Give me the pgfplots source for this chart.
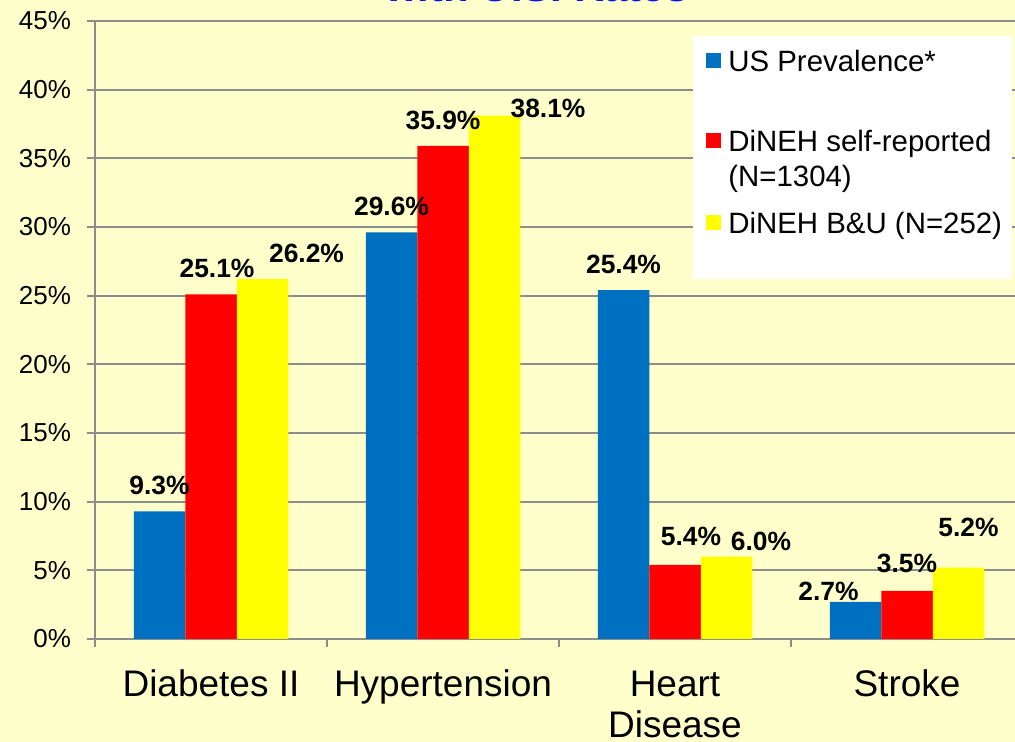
\documentclass[border=0pt]{standalone}
\usepackage{pgfplots}
\pgfplotsset{compat=1.18}
\usepackage{pgfplotstable}
\usepackage{fontspec}
\setmainfont{Liberation Sans}

\definecolor{bgyellow}{RGB}{255,255,204}
\definecolor{usblue}{RGB}{0,112,192}
\definecolor{dred}{RGB}{255,0,0}
\definecolor{dyellow}{RGB}{255,255,0}
\definecolor{gridgray}{RGB}{140,140,140}
\definecolor{titleblue}{RGB}{16,16,240}

% x = category, y = percent, dx/dy = label offset in pt
\pgfplotstableread{
x y dx dy
0 9.3 0 13
1 29.6 0 13
2 25.4 0 13
3 2.7 -13.5 5.5
}\usprev
\pgfplotstableread{
x y dx dy
0 25.1 3 13
1 35.9 0 12.75
2 5.4 8 14.4
3 3.5 0 13.5
}\selfrep
\pgfplotstableread{
x y dx dy
0 26.2 22 13
1 38.1 26.75 3.5
2 6.0 17.25 7.8
3 5.2 5 20
}\bandu

\pgfplotsset{
    barlabel/.style={
        visualization depends on={\thisrow{dx} \as \dx},
        visualization depends on={\thisrow{dy} \as \dy},
        nodes near coords={\pgfmathprintnumber[fixed,fixed zerofill,precision=1]{\pgfplotspointmeta}\%},
        every node near coord/.append style={font=\fontsize{13.2}{15}\selectfont\bfseries,
            anchor=center, xshift=\dx pt, yshift=\dy pt},
    },
}

\begin{document}
\begin{tikzpicture}[x=0.5pt,y=0.5pt]
\fill[bgyellow] (0,0) rectangle (1015,742);
\begin{axis}[
    at={(47.5pt,51.5pt)}, anchor=south west,
    scale only axis, width=464pt, height=309pt,
    ybar=0pt, bar width=25.75pt,
    xmin=-0.5, xmax=3.5, ymin=0, ymax=45,
    xtick={-0.5,0.5,1.5,2.5,3.5}, xticklabels={},
    extra x ticks={0,1,2,3},
    extra x tick labels={Diabetes II, Hypertension, {\begin{tabular}[t]{@{}c@{}}Heart\\Disease\end{tabular}}, Stroke},
    extra x tick style={grid=none, major tick length=0pt,
        xticklabel style={anchor=base, yshift=-29pt}},
    ytick={0,5,...,45},
    yticklabel={\pgfmathprintnumber{\tick}\%},
    ymajorgrids,
    grid style={gridgray, line width=1pt},
    axis x line*=bottom, axis y line*=left,
    axis line style={gridgray, line width=1pt, -},
    tick style={gridgray, line width=1pt},
    tick align=outside, major tick length=4pt,
    /pgf/number format/assume math mode=true,
    yticklabel style={font=\fontsize{13}{15}\selectfont, xshift=-4.5pt},
    xticklabel style={font=\fontsize{18.5}{20.5}\selectfont},
    legend style={draw=none, fill=none, at={(axis description cs:0.6584,0.9531)},
        anchor=north west, font=\fontsize{14.7}{17.5}\selectfont,
        inner sep=0pt, row sep=0pt,
        nodes={inner sep=0pt, text depth=},
        cells={anchor=base west}},
    legend image code/.code={
        \fill[#1, draw=none] (0pt,1.75pt) rectangle (7.5pt,9.25pt);
        \path (0pt,1.75pt) (11pt,1.75pt);},
]
\fill[white] (rel axis cs:0.6444,0.9757) rectangle (rel axis cs:0.9881,0.5825);
\addplot[fill=usblue, draw=none, barlabel] table[x=x, y=y] {\usprev};
\addplot[fill=dred, draw=none, barlabel] table[x=x, y=y] {\selfrep};
\addplot[fill=dyellow, draw=none, barlabel] table[x=x, y=y] {\bandu};
\legend{US Prevalence*\rule[-27.75pt]{0pt}{27.75pt},
    {\begin{tabular}[t]{@{}l@{}}DiNEH self-reported\\(N=1304)\end{tabular}},
    DiNEH B\&U (N=252)\rule{0pt}{18.25pt}}
\end{axis}
\node[anchor=base, font=\fontsize{21}{25}\selectfont\bfseries, text=titleblue] at (537,740) {with U.S. Rates};
\pgfresetboundingbox
\path (0,0) rectangle (1015,742);
\end{tikzpicture}
\end{document}
